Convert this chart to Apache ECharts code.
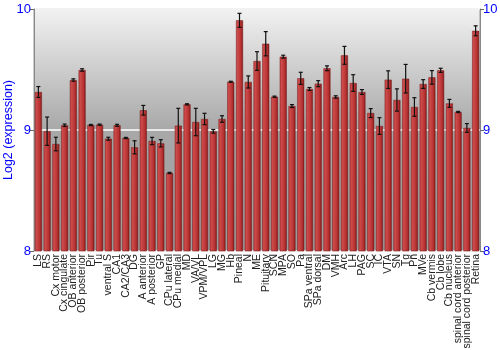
<!DOCTYPE html>
<html><head><meta charset="utf-8">
<script src="https://cdn.jsdelivr.net/npm/echarts@6/dist/echarts.min.js"></script>
<style>html,body{margin:0;padding:0;background:#fff}#c{width:500px;height:350px}</style>
</head><body><div id="c"></div>
<script>
var categories = ["LS","RS","Cx motor","Cx cingulate","OB anterior","OB posterior","Pir","Tu","ventral S","CA1","CA2/CA3","DG","A anterior","A posterior","GP","CPu lateral","CPu medial","MD","VA/VL","VPM/VPL","LG","MG","Hb","Pineal","N","ME","Pituitary","SCN","MPA","SO","Pa","SPa ventral","SPa dorsal","DM","VMH","Arc","LH","PAG","SC","IC","VTA","SN","Tg","Pn","MVe","Cb vermis","Cb lobe","Cb nucleus","spinal cord anterior","spinal cord posterior","Retina"];
var values = [9.314,8.99,8.884,9.039,9.413,9.496,9.041,9.044,8.928,9.039,8.934,8.857,9.163,8.909,8.89,8.645,9.036,9.212,9.066,9.091,8.989,9.091,9.399,9.906,9.397,9.570,9.713,9.275,9.606,9.198,9.427,9.339,9.383,9.51,9.273,9.617,9.388,9.314,9.140,9.033,9.416,9.248,9.424,9.190,9.380,9.435,9.493,9.22,9.149,9.017,9.82];
var errors = [0.045,0.117,0.056,0.01,0.01,0.01,0.005,0.005,0.012,0.008,0.005,0.054,0.04,0.03,0.03,0.005,0.143,0.005,0.113,0.047,0.015,0.027,0.004,0.058,0.05,0.077,0.1,0.005,0.012,0.012,0.05,0.012,0.025,0.02,0.01,0.074,0.069,0.02,0.037,0.069,0.073,0.092,0.118,0.077,0.036,0.056,0.017,0.033,0.005,0.036,0.041];
var yTicks = [8, 9, 10];

var chart = echarts.init(document.getElementById('c'), null, {renderer:'canvas'});
var errData = values.map(function(v,i){return [i, v-errors[i], v+errors[i]];});
chart.setOption({
  animation:false,
  backgroundColor:'#ffffff',
  grid:{left:34,right:20,top:9,bottom:99,containLabel:false,outerBoundsMode:'none',show:true,borderColor:'#999',borderWidth:1,
    backgroundColor:new echarts.graphic.LinearGradient(0,0,0,1,[{offset:0,color:'#f2f2f2'},{offset:0.5,color:'#a8a8a8'},{offset:1,color:'#9c9c9c'}])},
  xAxis:{type:'category',data:categories,boundaryGap:true,
    axisLine:{show:false},axisTick:{show:false},
    axisLabel:{interval:0,rotate:90,color:'#222',fontSize:10.5,fontFamily:'Liberation Sans, Arial, sans-serif',margin:3}},
  yAxis:[{type:'value',min:yTicks[0],max:yTicks[yTicks.length-1],interval:1,position:'left',
    name:'Log2 (expression)',nameLocation:'middle',nameGap:19,nameMoveOverlap:false,
    nameTextStyle:{color:'#0000ff',fontSize:12.5,fontFamily:'Liberation Sans, Arial, sans-serif'},
    axisLine:{show:true,lineStyle:{color:'#888'}},axisTick:{show:true,length:4,lineStyle:{color:'#666'}},
    axisLabel:{color:'#0000ff',fontSize:13,margin:3,fontFamily:'Liberation Sans, Arial, sans-serif'},
    splitLine:{show:true,lineStyle:{color:'#ffffff',width:1.5,type:'solid'}}},
   {type:'value',min:yTicks[0],max:yTicks[yTicks.length-1],interval:1,position:'right',
    axisLine:{show:true,lineStyle:{color:'#888'}},axisTick:{show:true,length:4,lineStyle:{color:'#666'}},
    axisLabel:{color:'#0000ff',fontSize:13,margin:3,fontFamily:'Liberation Sans, Arial, sans-serif'},
    splitLine:{show:false}}],
  series:[{type:'bar',data:values,barWidth:'80%',
    itemStyle:{color:new echarts.graphic.LinearGradient(0,0,1,0,[{offset:0,color:'#c24242'},{offset:0.25,color:'#cc4a4a'},{offset:0.7,color:'#b83232'},{offset:1,color:'#801818'}]),
      borderColor:'#7a1a1a',borderWidth:0.5}},
   {type:'custom',data:errData,z:10,
    renderItem:function(params,api){
      var x=api.value(0);
      var lo=api.coord([x,api.value(1)]);
      var hi=api.coord([x,api.value(2)]);
      var w=2;
      var st={stroke:'#111',lineWidth:1.2};
      return {type:'group',children:[
        {type:'line',shape:{x1:lo[0],y1:lo[1],x2:hi[0],y2:hi[1]},style:st},
        {type:'line',shape:{x1:lo[0]-w,y1:lo[1],x2:lo[0]+w,y2:lo[1]},style:st},
        {type:'line',shape:{x1:hi[0]-w,y1:hi[1],x2:hi[0]+w,y2:hi[1]},style:st}
      ]};
    },
    encode:{x:0,y:[1,2]}}]
});
</script></body></html>
